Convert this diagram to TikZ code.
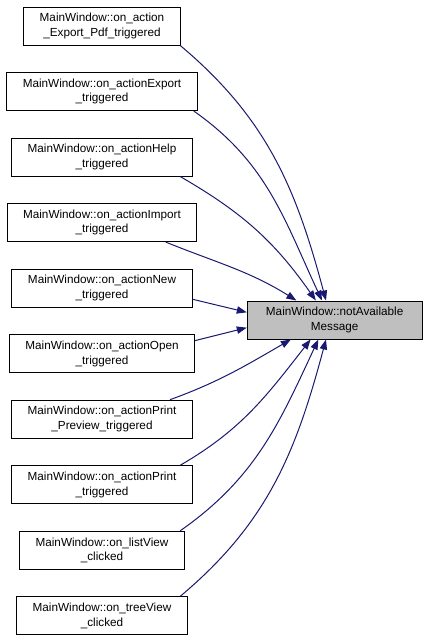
\documentclass[tikz,border=0pt]{standalone}
\usepackage{fontspec}
\setmainfont{Liberation Sans}
\usetikzlibrary{arrows.meta, positioning}
\definecolor{edgeblue}{RGB}{25,25,112}
\definecolor{focusgray}{RGB}{191,191,191}

\begin{document}
\begin{tikzpicture}[
        node distance=19.9pt,
        func/.style={rectangle, draw=black, fill=white, minimum height=28.5pt, inner xsep=12pt, align=center, font=\fontsize{8.8}{11}\selectfont, line width=0.75pt},
        focus/.style={func, fill=focusgray, inner xsep=14pt},
        arrow/.style={-{Triangle[length=7.5pt, width=5.5pt]}, line width=0.75pt, edgeblue}
    ]
    \useasboundingbox (0,0) rectangle (320.25pt,-480pt);

    % Callers (one column, evenly spaced)
    \node[func] (pdf) at (76.5pt,-19.5pt) {MainWindow::on\_action\\\_Export\_Pdf\_triggered};
    \node[func, below=of pdf] (export) {MainWindow::on\_actionExport\\\_triggered};
    \node[func, below=of export] (help) {MainWindow::on\_actionHelp\\\_triggered};
    \node[func, below=of help] (import) {MainWindow::on\_actionImport\\\_triggered};
    \node[func, below=of import] (new) {MainWindow::on\_actionNew\\\_triggered};
    \node[func, below=of new] (open) {MainWindow::on\_actionOpen\\\_triggered};
    \node[func, below=of open] (preview) {MainWindow::on\_actionPrint\\\_Preview\_triggered};
    \node[func, below=of preview] (print) {MainWindow::on\_actionPrint\\\_triggered};
    \node[func, below=of print] (list) {MainWindow::on\_listView\\\_clicked};
    \node[func, below=of list] (tree) {MainWindow::on\_treeView\\\_clicked};

    % Called function
    \node[focus] (msg) at (251pt,-240pt) {MainWindow::notAvailable\\Message};

    % Caller edges
    \draw[arrow] (pdf.-14) to[out=-40, in=105] (msg.114);
    \draw[arrow] (export.-12) to[out=-35, in=115] (msg.123);
    \draw[arrow] (help.-14) to[out=-30, in=125] (msg.134);
    \draw[arrow] (import.-17) to[out=-22, in=148] (msg.153);
    \draw[arrow] (new.-7) -- (msg.175);
    \draw[arrow] (open.8) -- (msg.185);
    \draw[arrow] (preview.16) to[out=20, in=210] (msg.204);
    \draw[arrow] (print.14) to[out=30, in=232] (msg.219);
    \draw[arrow] (list.14) to[out=35, in=245] (msg.230);
    \draw[arrow] (tree.14) to[out=40, in=255] (msg.246);

\end{tikzpicture}
\end{document}
